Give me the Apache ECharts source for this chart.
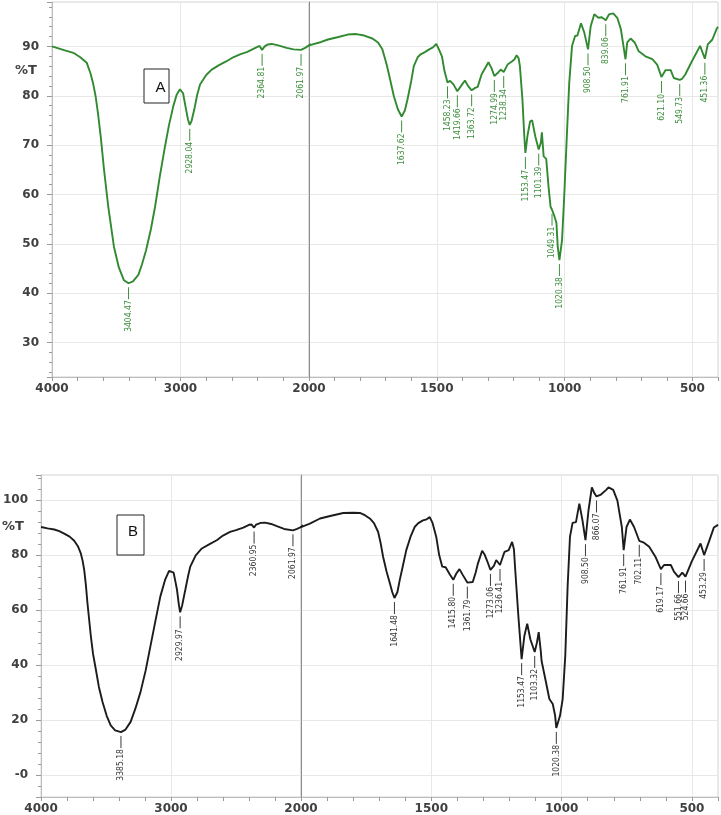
<!DOCTYPE html>
<html>
<head>
<meta charset="utf-8">
<title>FTIR spectra A and B</title>
<script src="https://cdn.jsdelivr.net/npm/echarts@6/dist/echarts.min.js"></script>
<style>
  html, body { margin: 0; padding: 0; background: #fff; }
  #chart { width: 721px; height: 815px; }
</style>
</head>
<body>
<div id="chart"></div>
<script>
// spectrum A: [wavenumber cm-1, %T]
let spectrumA = [
  [4000, 90.0], [3950, 89.6], [3900, 89.2], [3834, 88.7], [3780, 87.8], [3730, 86.7],
  [3700, 84.5], [3680, 82.5], [3660, 79.8], [3640, 76.0], [3620, 71.5], [3595, 65.0],
  [3562, 57.5], [3518, 49.4], [3480, 45.2], [3440, 42.6], [3404.47, 42.0], [3370, 42.4],
  [3328, 43.7], [3300, 45.8], [3268, 48.7], [3230, 53.0], [3198, 57.5], [3160, 63.8],
  [3121, 69.7], [3090, 74.0], [3056, 77.9], [3030, 80.2], [3004, 81.3], [2980, 80.5],
  [2958, 77.4], [2942, 75.2], [2928.04, 74.1], [2915, 74.8], [2893, 77.2], [2870, 80.2],
  [2848, 82.3], [2800, 84.2], [2757, 85.3], [2700, 86.2], [2641, 87.0], [2590, 87.8],
  [2537, 88.4], [2480, 88.9], [2433, 89.5], [2385, 90.1], [2364.81, 89.3], [2345, 90.0],
  [2320, 90.4], [2290, 90.5], [2240, 90.2], [2174, 89.7], [2120, 89.4], [2061.97, 89.3],
  [2030, 89.7], [2000, 90.2], [1952, 90.9], [1926, 91.4], [1885, 91.9], [1849, 92.4],
  [1815, 92.5], [1784, 92.2], [1752, 91.6], [1730, 90.8], [1713, 89.4], [1697, 86.5],
  [1688, 84.5], [1668, 79.9], [1652, 77.2], [1637.62, 75.8], [1625, 77.0], [1615, 79.2],
  [1600, 83.0], [1590, 86.0], [1575, 87.8], [1563, 88.4], [1545, 88.9], [1530, 89.4],
  [1515, 89.8], [1502, 90.5], [1490, 89.2], [1480, 88.0], [1470, 85.0], [1458.23, 82.7],
  [1448, 83.0], [1435, 82.3], [1419.66, 80.9], [1405, 82.0], [1390, 83.1], [1378, 82.0],
  [1363.72, 81.1], [1350, 81.6], [1340, 81.8], [1325, 84.3], [1298, 86.8], [1286, 85.6],
  [1274.99, 84.0], [1262, 84.6], [1250, 85.3], [1238.34, 84.8], [1222, 86.4], [1205, 87.0],
  [1196, 87.4], [1188, 88.2], [1180, 87.6], [1175, 86.0], [1165, 79.2], [1158, 72.0],
  [1153.47, 68.4], [1145, 72.0], [1135, 74.8], [1127, 75.0], [1115, 71.8], [1101.39, 69.1],
  [1093, 70.5], [1089, 72.6], [1082, 67.7], [1072, 67.2], [1063, 61.6], [1055, 57.5],
  [1049.31, 56.9], [1040, 55.6], [1032, 54.2], [1027, 49.4], [1020.38, 46.7], [1010, 50.8],
  [1001, 60.3], [992, 71.1], [982, 82.6], [971, 90.1], [959, 92.1], [950, 92.2],
  [936, 94.7], [923, 92.8], [908.50, 89.4], [898, 94.1], [884, 96.5], [868, 95.8],
  [855, 95.9], [839.06, 95.3], [826, 96.5], [810, 96.7], [794, 95.8], [780, 93.5],
  [761.91, 87.4], [755, 90.8], [742, 91.6], [726, 90.8], [710, 89.0], [684, 88.0],
  [657, 87.4], [638, 86.3], [621.10, 83.8], [605, 85.2], [585, 85.2], [573, 83.6],
  [549.73, 83.2], [541, 83.4], [528, 84.3], [502, 87.0], [470, 90.1], [451.36, 87.5],
  [440, 90.4], [422, 91.4], [405, 93.6], [400, 94.0]
];

// spectrum B: [wavenumber cm-1, %T]
let spectrumB = [
  [4000, 90.1], [3950, 89.6], [3898, 89.2], [3860, 88.6], [3822, 87.7], [3780, 86.6],
  [3745, 85.1], [3715, 83.0], [3694, 80.5], [3680, 77.8], [3668, 74.5], [3655, 69.0],
  [3643, 62.5], [3630, 56.5], [3617, 50.5], [3600, 44.0], [3579, 38.5], [3555, 32.0],
  [3527, 26.5], [3495, 21.5], [3464, 18.0], [3430, 16.2], [3385.18, 15.6], [3350, 16.5],
  [3311, 19.3], [3275, 24.0], [3235, 30.1], [3195, 38.0], [3158, 46.9], [3120, 56.0],
  [3082, 64.9], [3045, 71.0], [3015, 74.2], [3000, 74.8], [2980, 73.5], [2965, 70.0],
  [2954, 67.3], [2940, 62.0], [2929.97, 59.1], [2915, 61.5], [2900, 65.0], [2890, 67.3],
  [2870, 72.0], [2852, 75.7], [2810, 79.8], [2763, 82.3], [2700, 84.0], [2648, 85.3],
  [2600, 87.0], [2546, 88.3], [2500, 89.0], [2444, 89.9], [2400, 90.9], [2380, 91.0],
  [2360.95, 89.9], [2345, 91.0], [2310, 91.6], [2276, 91.7], [2230, 91.2], [2186, 90.4],
  [2130, 89.4], [2061.97, 88.9], [2030, 89.4], [2000, 90.1], [1966, 91.3], [1927, 93.2],
  [1880, 94.3], [1838, 95.2], [1800, 95.3], [1774, 95.2], [1755, 94.4], [1736, 93.2],
  [1720, 91.5], [1704, 88.3], [1695, 84.5], [1685, 79.3], [1672, 74.0], [1659, 69.7],
  [1650, 66.5], [1641.48, 64.3], [1630, 66.5], [1621, 70.9], [1608, 76.5], [1596, 81.7],
  [1580, 86.5], [1564, 90.1], [1550, 91.5], [1532, 92.5], [1518, 92.9], [1506, 93.7],
  [1495, 91.5], [1481, 86.5], [1470, 80.0], [1458, 75.7], [1445, 75.5], [1430, 73.0],
  [1415.80, 70.9], [1404, 73.2], [1392, 74.8], [1380, 72.8], [1361.79, 69.9], [1341, 70.1],
  [1330, 73.5], [1321, 76.9], [1305, 81.5], [1295, 80.0], [1287, 78.1], [1273.06, 74.5],
  [1260, 76.0], [1251, 78.1], [1236.41, 76.3], [1225, 79.5], [1219, 81.1], [1203, 81.7],
  [1190, 84.7], [1183, 82.0], [1178, 74.5], [1165, 56.5], [1153.47, 42.1], [1143, 50.5],
  [1132, 55.0], [1120, 49.3], [1103.32, 44.7], [1095, 48.0], [1088, 51.9], [1080, 45.0],
  [1077, 41.5], [1070, 41.7], [1060, 33.7], [1047, 27.6], [1034, 25.8], [1025, 21.6],
  [1020.38, 17.1], [1006, 21.6], [996, 27.6], [986, 43.3], [977, 68.5], [968, 86.5],
  [958, 91.6], [945, 91.9], [932, 98.6], [920, 92.5], [908.50, 85.3], [897, 96.1],
  [884, 104.5], [875, 102.5], [866.07, 101.2], [849, 101.9], [843, 101.2], [830, 103.5],
  [820, 104.5], [802, 103.6], [786, 99.7], [769, 90.1], [761.91, 81.7], [751, 90.1],
  [738, 92.8], [722, 90.1], [702.11, 85.1], [684, 84.4], [664, 82.9], [639, 79.1],
  [619.17, 74.8], [607, 76.3], [581, 76.3], [569, 73.9], [551.66, 71.9], [537, 73.5],
  [524.66, 72.1], [501, 77.5], [467, 84.1], [453.29, 79.9], [435, 84.7], [416, 89.9],
  [403, 90.7], [400, 91.0]
];

// labelled peaks: [wavenumber, %T at the peak]
let peaksA = [
  [3404.47, 42.0], [2928.04, 74.1], [2364.81, 89.3], [2061.97, 89.3], [1637.62, 75.8],
  [1458.23, 82.7], [1419.66, 80.9], [1363.72, 81.1], [1274.99, 84.0], [1238.34, 84.8],
  [1153.47, 68.4], [1101.39, 69.1], [1049.31, 56.9], [1020.38, 46.7], [908.50, 89.4],
  [839.06, 95.3], [761.91, 87.4], [621.10, 83.8], [549.73, 83.2], [451.36, 87.5]
];
let peaksB = [
  [3385.18, 15.6], [2929.97, 59.1], [2360.95, 89.9], [2061.97, 88.9], [1641.48, 64.3],
  [1415.80, 70.9], [1361.79, 69.9], [1273.06, 74.5], [1236.41, 76.3], [1153.47, 42.1],
  [1103.32, 44.7], [1020.38, 17.1], [908.50, 85.3], [866.07, 101.2], [761.91, 81.7],
  [702.11, 85.1], [619.17, 74.8], [551.66, 71.9], [524.66, 72.1], [453.29, 79.9]
];

let chart = echarts.init(document.getElementById("chart"));

const AXIS_FONT = "DejaVu Sans";
const PEAK_FONT = '8.5px "Liberation Sans Narrow", "DejaVu Sans Condensed", sans-serif';

let grids = [];
let xAxes = [];
let yAxes = [];
let series = [];

function peakRenderer(color) {
  return function(params, api) {
    let w = api.value(0);
    let pt = api.coord([w, api.value(1)]);
    return {
      type: "group",
      children: [
        {
          type: "line",
          shape: { x1: pt[0], y1: pt[1] + 4, x2: pt[0], y2: pt[1] + 16 },
          style: { stroke: color, lineWidth: 1 }
        },
        {
          type: "text",
          x: pt[0],
          y: pt[1] + 17,
          rotation: Math.PI / 2,
          style: {
            text: w.toFixed(2),
            fill: color,
            font: PEAK_FONT,
            align: "right",
            verticalAlign: "middle",
            textAlign: "right",
            textVerticalAlign: "middle"
          }
        }
      ]
    };
  };
}

// one spectrum = two grids side by side (4000-2000 and 2000-400, the latter expanded)
function addPanel(p) {
  let gi = grids.length;
  grids.push({ left: p.left, top: p.top, width: p.splitX - p.left, height: p.height,
    show: true, borderColor: "#d2d2d2", borderWidth: 1 });
  grids.push({ left: p.splitX, top: p.top, width: p.right - p.splitX, height: p.height,
    show: true, borderColor: "#d2d2d2", borderWidth: 1 });

  let tickStyle = { color: "#9a9a9a", width: 1 };
  let labelStyle = { fontFamily: AXIS_FONT, fontWeight: "bold", fontSize: 12, color: "#404040", margin: 6 };
  let splitStyle = { show: true, lineStyle: { color: "#e8e8e8", width: 1 } };

  xAxes.push({
    type: "value", gridIndex: gi, inverse: true, min: 2000, max: 4000, interval: 1000,
    axisLine: { show: true, onZero: false, lineStyle: { color: "#bdbdbd" } },
    axisTick: { show: true, length: 4, lineStyle: tickStyle },
    minorTick: { show: true, splitNumber: 5, length: 4, lineStyle: tickStyle },
    axisLabel: Object.assign({}, labelStyle, {
      formatter: function(v) { return String(v); }
    }),
    splitLine: splitStyle
  });
  xAxes.push({
    type: "value", gridIndex: gi + 1, inverse: true, min: 400, max: 2000, splitNumber: 3,
    axisLine: { show: true, onZero: false, lineStyle: { color: "#bdbdbd" } },
    axisTick: { show: true, length: 4, lineStyle: tickStyle },
    minorTick: { show: true, splitNumber: 5, length: 4, lineStyle: tickStyle },
    axisLabel: Object.assign({}, labelStyle, {
      formatter: function(v) { return (v === 400 || v === 2000) ? "" : String(v); }
    }),
    splitLine: splitStyle
  });

  yAxes.push({
    type: "value", gridIndex: gi, min: p.yMin, max: p.yMax, splitNumber: p.ySplit,
    axisLine: { show: true, onZero: false, lineStyle: { color: "#bdbdbd" } },
    axisTick: { show: true, length: 5, lineStyle: tickStyle },
    minorTick: { show: true, splitNumber: 5, length: 3, lineStyle: tickStyle },
    axisLabel: Object.assign({}, labelStyle, { margin: 13, formatter: p.yFormat }),
    splitLine: splitStyle
  });
  yAxes.push({
    type: "value", gridIndex: gi + 1, min: p.yMin, max: p.yMax, splitNumber: p.ySplit,
    axisLine: { show: true, onZero: false, lineStyle: { color: "#8c8c8c", width: 1 } },
    axisTick: { show: false },
    axisLabel: { show: false },
    splitLine: splitStyle
  });

  [0, 1].forEach(function(k) {
    series.push({
      type: "line",
      xAxisIndex: gi + k,
      yAxisIndex: gi + k,
      data: p.spectrum,
      showSymbol: false,
      clip: true,
      lineStyle: { color: p.lineColor, width: 1.9 },
      z: 3
    });
    series.push({
      type: "custom",
      xAxisIndex: gi + k,
      yAxisIndex: gi + k,
      data: p.peaks.filter(function(d) { return k === 0 ? d[0] >= 2000 : d[0] < 2000; }),
      renderItem: peakRenderer(p.labelColor),
      silent: true,
      z: 4
    });
  });
}

addPanel({
  left: 52, splitX: 309, right: 719, top: 2, height: 375,
  yMin: 23, yMax: 99, ySplit: 8,
  yFormat: function(v) { return v % 10 === 0 ? String(v) : ""; },
  spectrum: spectrumA, peaks: peaksA,
  lineColor: "#318a31", labelColor: "#3f8f3f"
});

addPanel({
  left: 40, splitX: 301, right: 719, top: 475, height: 324,
  yMin: -8, yMax: 109, ySplit: 6,
  yFormat: function(v) { return v === 0 ? "-0" : (v % 20 === 0 ? String(v) : ""); },
  spectrum: spectrumB, peaks: peaksB,
  lineColor: "#1c1c1c", labelColor: "#3a3a3a"
});

let option = {
  backgroundColor: "#ffffff",
  animation: false,
  grid: grids,
  xAxis: xAxes,
  yAxis: yAxes,
  series: series,
  graphic: [
    { type: "text", left: 15, top: 64,
      style: { text: "%T", font: "bold 13px DejaVu Sans", fill: "#404040" } },
    { type: "text", left: 2, top: 520,
      style: { text: "%T", font: "bold 13px DejaVu Sans", fill: "#404040" } },
    { type: "rect", shape: { x: 144, y: 69, width: 25, height: 34 },
      style: { fill: "#fff", stroke: "#222", lineWidth: 1 }, z: 10 },
    { type: "text", x: 160.5, y: 87.5, z: 11,
      style: { text: "A", font: "15px Liberation Sans", fill: "#111",
               align: "center", verticalAlign: "middle" } },
    { type: "rect", shape: { x: 117, y: 515, width: 27, height: 40 },
      style: { fill: "#fff", stroke: "#222", lineWidth: 1 }, z: 10 },
    { type: "text", x: 133, y: 532, z: 11,
      style: { text: "B", font: "15px Liberation Sans", fill: "#111",
               align: "center", verticalAlign: "middle" } }
  ]
};

chart.setOption(option);
</script>
</body>
</html>
